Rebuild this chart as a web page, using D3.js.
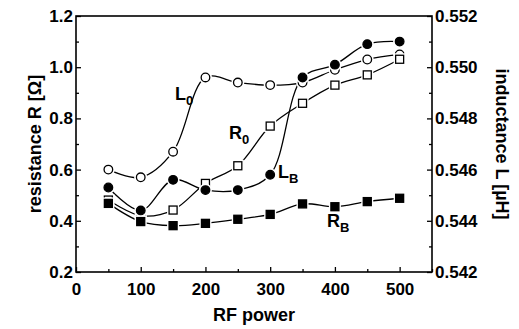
<!DOCTYPE html>
<html>
<head>
<meta charset="utf-8">
<script src="https://cdn.jsdelivr.net/npm/d3@7"></script>
<style>
  body { margin: 0; background: #fff; }
  svg text { font-family: "Liberation Sans", Arial, sans-serif; font-weight: bold; fill: #000; }
</style>
</head>
<body>
<svg id="chart" width="519" height="329"></svg>
<script>
'use strict';

// RF power (x)
const power = [50, 100, 150, 200, 250, 300, 350, 400, 450, 500];
// resistance R [Ohm], left axis
const R0 = [0.481, 0.420, 0.442, 0.546, 0.615, 0.770, 0.859, 0.930, 0.970, 1.031];
const RB = [0.468, 0.397, 0.381, 0.390, 0.406, 0.425, 0.466, 0.455, 0.475, 0.488];
// inductance L [uH], right axis
const L0 = [0.5460, 0.5457, 0.5467, 0.5496, 0.5494, 0.5493, 0.5494, 0.5499, 0.5503, 0.5505];
const LB = [0.5453, 0.5444, 0.5456, 0.5452, 0.5452, 0.5458, 0.5496, 0.5501, 0.5509, 0.5510];

const xTicks = [0, 100, 200, 300, 400, 500];
const leftTicks = [0.2, 0.4, 0.6, 0.8, 1.0, 1.2];
const rightTicks = [0.542, 0.544, 0.546, 0.548, 0.550, 0.552];

const width = 519, height = 329;
const margin = {top: 16, right: 87, bottom: 57, left: 76};
const svg = d3.select('#chart');

const x = d3.scaleLinear().domain([0, 550]).range([margin.left, width - margin.right]);
const yL = d3.scaleLinear().domain([0.2, 1.2]).range([height - margin.bottom, margin.top]);
const yR = d3.scaleLinear().domain([0.542, 0.552]).range([height - margin.bottom, margin.top]);

// frame
svg.append('rect')
	.attr('x', margin.left).attr('y', margin.top)
	.attr('width', width - margin.left - margin.right)
	.attr('height', height - margin.top - margin.bottom)
	.attr('fill', 'none').attr('stroke', '#000').attr('stroke-width', 1.6);

// axes, ticks pointing inward
function styleAxis(g){
	g.select('.domain').remove();
	g.selectAll('.tick line').attr('stroke', '#000').attr('stroke-width', 1.3);
	g.selectAll('.tick text').attr('font-size', 17);
}

const gx = svg.append('g').attr('transform', 'translate(0,' + (height - margin.bottom) + ')');
gx.call(d3.axisBottom(x).tickValues(d3.range(0, 551, 50)).tickSizeInner(-5).tickSizeOuter(0).tickPadding(9)
	.tickFormat(d => xTicks.includes(d) ? d : ''));
styleAxis(gx);
gx.selectAll('.tick').filter(d => !xTicks.includes(d)).select('line').attr('y2', -3);
gx.selectAll('.tick text').attr('dy', '0.85em');

const gl = svg.append('g').attr('transform', 'translate(' + margin.left + ',0)');
gl.call(d3.axisLeft(yL).tickValues(d3.range(0.2, 1.21, 0.1)).tickSizeInner(-5).tickSizeOuter(0).tickPadding(3)
	.tickFormat(d => leftTicks.some(t => Math.abs(t - d) < 1e-6) ? d3.format('.1f')(d) : ''));
styleAxis(gl);
gl.selectAll('.tick').filter(d => !leftTicks.some(t => Math.abs(t - d) < 1e-6)).select('line').attr('x2', 3);

const gr = svg.append('g').attr('transform', 'translate(' + (width - margin.right) + ',0)');
gr.call(d3.axisRight(yR).tickValues(d3.range(0.542, 0.5521, 0.001)).tickSizeInner(-5).tickSizeOuter(0).tickPadding(3)
	.tickFormat(d => rightTicks.some(t => Math.abs(t - d) < 1e-7) ? d3.format('.3f')(d) : ''));
styleAxis(gr);
gr.selectAll('.tick').filter(d => !rightTicks.some(t => Math.abs(t - d) < 1e-7)).select('line').attr('x2', -3);

// axis titles
svg.append('text')
	.attr('transform', 'translate(' + ((margin.left + width - margin.right) / 2) + ',' + (height - 8) + ')')
	.attr('text-anchor', 'middle').attr('font-size', 18).text('RF power');
svg.append('text')
	.attr('transform', 'translate(41,' + ((margin.top + height - margin.bottom) / 2) + ') rotate(-90)')
	.attr('text-anchor', 'middle').attr('font-size', 18).text('resistance R [Ω]');
svg.append('text')
	.attr('transform', 'translate(496,' + ((margin.top + height - margin.bottom) / 2) + ') rotate(90)')
	.attr('text-anchor', 'middle').attr('font-size', 18).text('inductance L [µH]');

// series
const series = [
	{name: 'L0', vals: L0, y: yR, shape: 'circle', fill: '#fff'},
	{name: 'R0', vals: R0, y: yL, shape: 'square', fill: '#fff'},
	{name: 'LB', vals: LB, y: yR, shape: 'circle', fill: '#000'},
	{name: 'RB', vals: RB, y: yL, shape: 'square', fill: '#000'}
];

const line = d3.line().curve(d3.curveCatmullRom.alpha(0.5));

series.forEach(s => {
	const pts = power.map((p, i) => [x(p), s.y(s.vals[i])]);
	svg.append('path')
		.attr('d', line(pts))
		.attr('fill', 'none').attr('stroke', '#000').attr('stroke-width', 1.3);
});

series.forEach(s => {
	const pts = power.map((p, i) => [x(p), s.y(s.vals[i])]);
	const g = svg.append('g');
	if(s.shape === 'circle'){
		g.selectAll('circle.halo').data(pts).join('circle')
			.attr('cx', d => d[0]).attr('cy', d => d[1]).attr('r', 6.5).attr('fill', '#fff');
		g.selectAll('circle.m').data(pts).join('circle')
			.attr('cx', d => d[0]).attr('cy', d => d[1]).attr('r', 4.3)
			.attr('fill', s.fill).attr('stroke', '#000').attr('stroke-width', 1.3);
	} else {
		g.selectAll('rect.halo').data(pts).join('rect')
			.attr('x', d => d[0] - 6).attr('y', d => d[1] - 6).attr('width', 12).attr('height', 12).attr('fill', '#fff');
		g.selectAll('rect.m').data(pts).join('rect')
			.attr('x', d => d[0] - 4).attr('y', d => d[1] - 4).attr('width', 8).attr('height', 8)
			.attr('fill', s.fill).attr('stroke', '#000').attr('stroke-width', 1.3);
	}
});

// series labels
const labels = [
	{main: 'L', sub: '0', px: 175, py: 100},
	{main: 'R', sub: '0', px: 229, py: 139},
	{main: 'L', sub: 'B', px: 278, py: 178},
	{main: 'R', sub: 'B', px: 327, py: 227}
];
labels.forEach(l => {
	const t = svg.append('text').attr('x', l.px).attr('y', l.py).attr('font-size', 18);
	t.append('tspan').text(l.main);
	t.append('tspan').attr('font-size', 13).attr('dy', 5).text(l.sub);
});
</script>
</body>
</html>
